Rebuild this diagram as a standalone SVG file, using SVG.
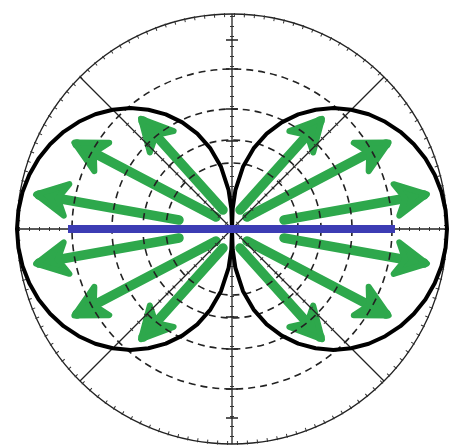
<svg xmlns="http://www.w3.org/2000/svg" xmlns:xlink="http://www.w3.org/1999/xlink" width="461" height="448" viewBox="0 0 461 448">
<style>
.grid{fill:none;stroke:#222;stroke-width:1.3}
.dash{fill:none;stroke:#222;stroke-width:1.6;stroke-dasharray:7 5}
.tick{fill:none;stroke:#333;stroke-width:4;stroke-dasharray:1 9}
.lobe{fill:none;stroke:#000;stroke-width:4;stroke-linejoin:round}
.arrow{fill:none;stroke:#2ea84c;stroke-width:9.5;stroke-linecap:round;marker-end:url(#head)}
</style>
<defs>
<marker id="head" markerUnits="userSpaceOnUse" orient="auto" markerWidth="70" markerHeight="70" refX="0" refY="0" viewBox="-35 -35 70 70" overflow="visible">
<path d="M-28,-16 L3,0 L-28,16 L-19,0 Z" fill="#2ea84c" stroke="#2ea84c" stroke-width="6" stroke-linejoin="round"/>
</marker>
<path id="lobeR" d="M232,229 L232.7,208.5 L235.4,190.2 L243,166.8 L253.6,148.4 L266.7,133.7 L281.7,122.4 L298.2,114.4 L315.6,109.7 L333.4,108.1 L351.3,109.7 L368.7,114.3 L385.2,121.8 L400.4,131.8 L413.9,144.2 L425.4,158.6 L434.7,174.7 L441.5,192.1 L445.6,210.3 L447,229 L445.6,247.7 L441.5,265.9 L434.7,283.3 L425.4,299.4 L413.9,313.8 L400.4,326.2 L385.2,336.2 L368.7,343.7 L351.3,348.3 L333.4,349.9 L315.6,348.3 L298.2,343.6 L281.7,335.6 L266.7,324.3 L253.6,309.6 L243,291.2 L235.4,267.8 L232.7,249.5 Z"/>
</defs>
<rect width="461" height="448" fill="#fff"/>
<g id="connectors">
<line class="arrow" x1="240" y1="210" x2="320" y2="121"/>
<line class="arrow" x1="247" y1="217" x2="386" y2="144"/>
<line class="arrow" x1="284" y1="220" x2="424" y2="195"/>
<line class="arrow" x1="284" y1="238" x2="424" y2="263"/>
<line class="arrow" x1="247" y1="241" x2="386" y2="314"/>
<line class="arrow" x1="240" y1="248" x2="320" y2="337"/>
<line class="arrow" x1="223" y1="210" x2="143" y2="121"/>
<line class="arrow" x1="216" y1="217" x2="77" y2="144"/>
<line class="arrow" x1="179" y1="220" x2="39" y2="195"/>
<line class="arrow" x1="179" y1="238" x2="39" y2="263"/>
<line class="arrow" x1="216" y1="241" x2="77" y2="314"/>
<line class="arrow" x1="223" y1="248" x2="143" y2="337"/>
</g>
<g id="grid">
<circle class="grid" cx="232" cy="229" r="215" stroke="#333"/>
<circle class="tick" cx="232" cy="229" r="214" stroke-width="3" stroke-dasharray="1 16"/>
<circle class="dash" cx="232" cy="229" r="160"/>
<circle class="dash" cx="232" cy="229" r="120"/>
<circle class="dash" cx="232" cy="229" r="89"/>
<circle class="dash" cx="232" cy="229" r="66"/>
<line class="grid" x1="232" y1="14" x2="232" y2="444"/>
<line class="grid" x1="17" y1="229" x2="447" y2="229"/>
<line class="tick" x1="232" y1="16" x2="232" y2="442"/>
<line class="tick" x1="19" y1="229" x2="445" y2="229"/>
<path class="grid" d="M226,40 H238 M226,69 H238 M226,109 H238 M226,141 H238 M226,418 H238 M226,389 H238 M226,349 H238 M226,317 H238"/>
<line class="grid" x1="80" y1="77" x2="384" y2="381"/>
<line class="grid" x1="384" y1="77" x2="80" y2="381"/>
<line class="tick" x1="127" y1="124" x2="337" y2="334"/>
<line class="tick" x1="337" y1="124" x2="127" y2="334"/>
</g>
<g id="lobes">
<use xlink:href="#lobeR" class="lobe"/>
<use xlink:href="#lobeR" class="lobe" transform="matrix(-1 0 0 1 464 0)"/>
</g>
<g id="dipole">
<line x1="68" y1="229" x2="395" y2="229" stroke="#3c3cb4" stroke-width="8"/>
</g>
</svg>
